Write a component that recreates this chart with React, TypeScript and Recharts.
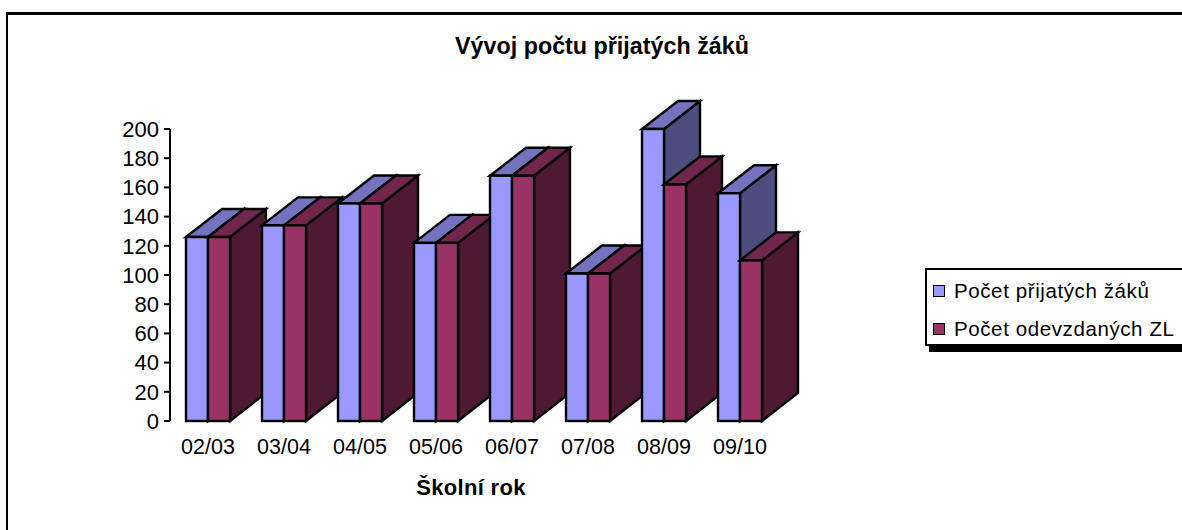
import React from "react";
import { BarChart, Bar, XAxis, YAxis, Legend } from "recharts";

const categories = ["02/03", "03/04", "04/05", "05/06", "06/07", "07/08", "08/09", "09/10"];
const prijatych = [126, 134, 149, 122, 168, 101, 200, 156];
const odevzdanych = [126, 134, 149, 122, 168, 101, 162, 110];
const seriesNames = ["Počet přijatých žáků", "Počet odevzdaných ZL"];
const yTicks = [0, 20, 40, 60, 80, 100, 120, 140, 160, 180, 200];

const rows = categories.map((name, i) => ({
  name,
  [`a${i}`]: prijatych[i],
  [`b${i}`]: odevzdanych[i],
}));

const FONT = "'Liberation Sans', Arial, sans-serif";
const DX = 36;
const DY = 28;

const palette = {
  a: { front: "#9999ff", top: "#7373bf", side: "#4d4d80" },
  b: { front: "#993366", top: "#73264d", side: "#4d1933" },
};

function Block3D(props: any) {
  const { x, y, width, height, tone } = props;
  if (!height || height <= 0) return null;
  const c = palette[tone as "a" | "b"];
  return (
    <g stroke="#000" strokeWidth={2.4} strokeLinejoin="miter">
      <polygon
        points={`${x + width},${y} ${x + width + DX},${y - DY} ${x + width + DX},${y + height - DY} ${x + width},${y + height}`}
        fill={c.side}
      />
      <polygon
        points={`${x},${y} ${x + DX},${y - DY} ${x + width + DX},${y - DY} ${x + width},${y}`}
        fill={c.top}
      />
      <rect x={x} y={y} width={width} height={height} fill={c.front} />
    </g>
  );
}

function LegendBox() {
  return (
    <div style={{ position: "relative", width: 260, height: 78, boxSizing: "border-box", background: "#fff", border: "2px solid #000", borderRight: "none", fontFamily: FONT, fontSize: 20.5 }}>
      {seriesNames.map((s, i) => (
        <div key={s} style={{ position: "absolute", left: 6, top: 9 + i * 38, display: "flex", alignItems: "center", whiteSpace: "nowrap", color: "#000", height: 24, letterSpacing: 0.6 }}>
          <span style={{ width: 10, height: 10, boxSizing: "content-box", border: "1.5px solid #000", background: i === 0 ? palette.a.front : palette.b.front, marginRight: 9, display: "inline-block" }} />
          {s}
        </div>
      ))}
    </div>
  );
}

export default function App() {
  return (
    <div style={{ position: "absolute", left: 0, top: 0, width: 1182, height: 530, overflow: "hidden", background: "#fff" }}>
      <div style={{ position: "absolute", left: 6, top: 12, width: 1300, height: 600, border: "2px solid #000", borderTopWidth: 3, boxSizing: "border-box" }} />
      <div style={{ position: "absolute", left: 0, width: 1182, top: 33, textAlign: "center", paddingLeft: 22, boxSizing: "border-box", fontFamily: FONT, fontWeight: 700, fontSize: 23.3, lineHeight: "26px", color: "#000" }}>Vývoj počtu přijatých žáků</div>
      <div style={{ position: "absolute", left: 0, width: 942, top: 475, textAlign: "center", fontFamily: FONT, fontWeight: 700, fontSize: 22, letterSpacing: 0.3, lineHeight: "26px", color: "#000" }}>Školní rok</div>
      <div style={{ position: "absolute", left: 0, top: 0 }}>
        <BarChart width={1182} height={530} data={rows} margin={{ top: 129, right: 144, bottom: 79, left: 110 }} barCategoryGap={16} barGap={0}>
          <XAxis dataKey="name" axisLine={false} tickLine={false} interval={0} tick={{ fill: "#000", fontFamily: FONT, fontSize: 21.5 }} tickMargin={12} />
          <YAxis domain={[0, 200]} ticks={yTicks} interval={0} width={60} orientation="left" axisLine={{ stroke: "#000", strokeWidth: 2 }} tickLine={{ stroke: "#000", strokeWidth: 2 }} tickSize={6} tickMargin={5} tick={{ fill: "#000", fontFamily: FONT, fontSize: 22 }} />
          {categories.flatMap((_, i) => [
            <Bar key={`a${i}`} dataKey={`a${i}`} stackId="a" isAnimationActive={false} shape={(p: any) => <Block3D {...p} tone="a" />} />,
            <Bar key={`b${i}`} dataKey={`b${i}`} stackId="b" isAnimationActive={false} shape={(p: any) => <Block3D {...p} tone="b" />} />,
          ])}
          <Legend content={() => <LegendBox />} layout="vertical" align="right" verticalAlign="top" wrapperStyle={{ left: 925, top: 268, width: 260 }} />
        </BarChart>
      </div>
      <div style={{ position: "absolute", left: 929, top: 346, width: 253, height: 6, background: "#000" }} />
    </div>
  );
}
